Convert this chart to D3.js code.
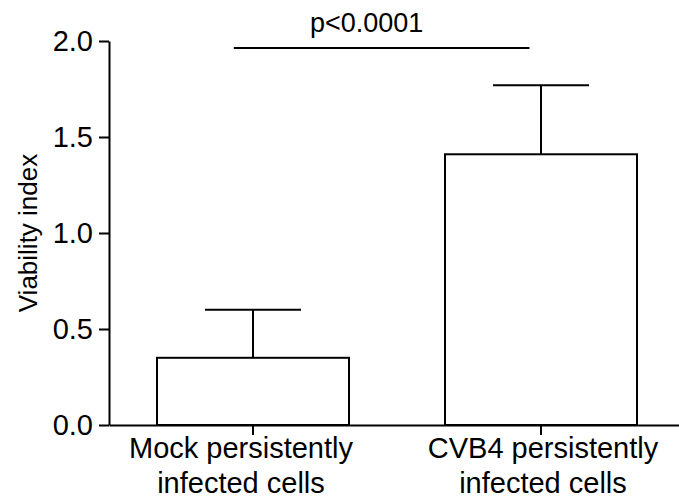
<!DOCTYPE html>
<html>
<head>
<meta charset="utf-8">
<script src="https://cdn.jsdelivr.net/npm/d3@7"></script>
<style>
  html, body { margin: 0; padding: 0; background: #fff; }
  svg { display: block; }
  text { font-family: "Liberation Sans", Arial, sans-serif; fill: #000; }
</style>
</head>
<body>
<svg id="chart" width="679" height="501"></svg>
<script>
// ---- data ----
const categories = ["Mock persistently infected cells", "CVB4 persistently infected cells"];
const labelLines = [["Mock persistently", "infected cells"], ["CVB4 persistently", "infected cells"]];
const means = [0.35, 1.41];
const errorTops = [0.60, 1.77];
const yTicks = [0.0, 0.5, 1.0, 1.5, 2.0];
const yTitle = "Viability index";
const sigLabel = "p<0.0001";
const sigLevel = 1.963;

// ---- layout ----
const svg = d3.select("#chart");
const y = d3.scaleLinear().domain([0, 2]).range([425, 41]);
const x = d3.scaleBand().domain(categories).range([109, 685])
  .paddingInner(1 / 3).paddingOuter(1 / 6);
const bw = x.bandwidth();
const stroke = 2;

// bars
svg.append("g").selectAll("rect").data(categories).join("rect")
  .attr("x", d => x(d))
  .attr("y", (d, i) => y(means[i]))
  .attr("width", bw)
  .attr("height", (d, i) => y(0) - y(means[i]))
  .attr("fill", "#fff")
  .attr("stroke", "#000")
  .attr("stroke-width", stroke);

// error bars (upper only)
const eg = svg.append("g").attr("stroke", "#000").attr("stroke-width", stroke);
categories.forEach((c, i) => {
  const cx = x(c) + bw / 2;
  eg.append("line").attr("x1", cx).attr("x2", cx)
    .attr("y1", y(means[i])).attr("y2", y(errorTops[i]));
  eg.append("line").attr("x1", cx - bw / 4).attr("x2", cx + bw / 4)
    .attr("y1", y(errorTops[i])).attr("y2", y(errorTops[i]));
});

// y axis
const yAxis = svg.append("g").attr("transform", "translate(109,0)")
  .call(d3.axisLeft(y).tickValues(yTicks).tickFormat(d3.format(".1f"))
    .tickSize(10).tickSizeOuter(0).tickPadding(6));
yAxis.selectAll("path, line").attr("stroke", "#000").attr("stroke-width", stroke);
yAxis.selectAll("text").style("font-size", "29px")
  .style("font-family", "'Liberation Sans', Arial, sans-serif").attr("fill", "#000");

// x axis
const xAxis = svg.append("g").attr("transform", "translate(0,425)")
  .call(d3.axisBottom(x).tickSize(10).tickSizeOuter(0).tickFormat(""));
xAxis.selectAll("path, line").attr("stroke", "#000").attr("stroke-width", stroke);
xAxis.selectAll("text").remove();

// category labels
const labelShift = [-12, 2];
categories.forEach((c, i) => {
  const t = svg.append("text")
    .attr("text-anchor", "middle")
    .style("font-size", "29px");
  labelLines[i].forEach((ln, k) => {
    t.append("tspan")
      .attr("x", x(c) + bw / 2 + labelShift[i])
      .attr("y", 458 + k * 35)
      .text(ln);
  });
});

// y title
svg.append("text")
  .attr("transform", `translate(37,${(y(0) + y(2)) / 2}) rotate(-90)`)
  .attr("text-anchor", "middle")
  .style("font-size", "26px")
  .text(yTitle);

// significance bar
const sx1 = x(categories[0]) + bw * 0.4;
const sx2 = x(categories[1]) + bw * 0.44;
svg.append("line")
  .attr("x1", sx1).attr("x2", sx2)
  .attr("y1", y(sigLevel)).attr("y2", y(sigLevel))
  .attr("stroke", "#000").attr("stroke-width", stroke);
svg.append("text")
  .attr("x", (sx1 + sx2) / 2 - 15)
  .attr("y", y(sigLevel) - 16)
  .attr("text-anchor", "middle")
  .style("font-size", "27px")
  .text(sigLabel);
</script>
</body>
</html>
